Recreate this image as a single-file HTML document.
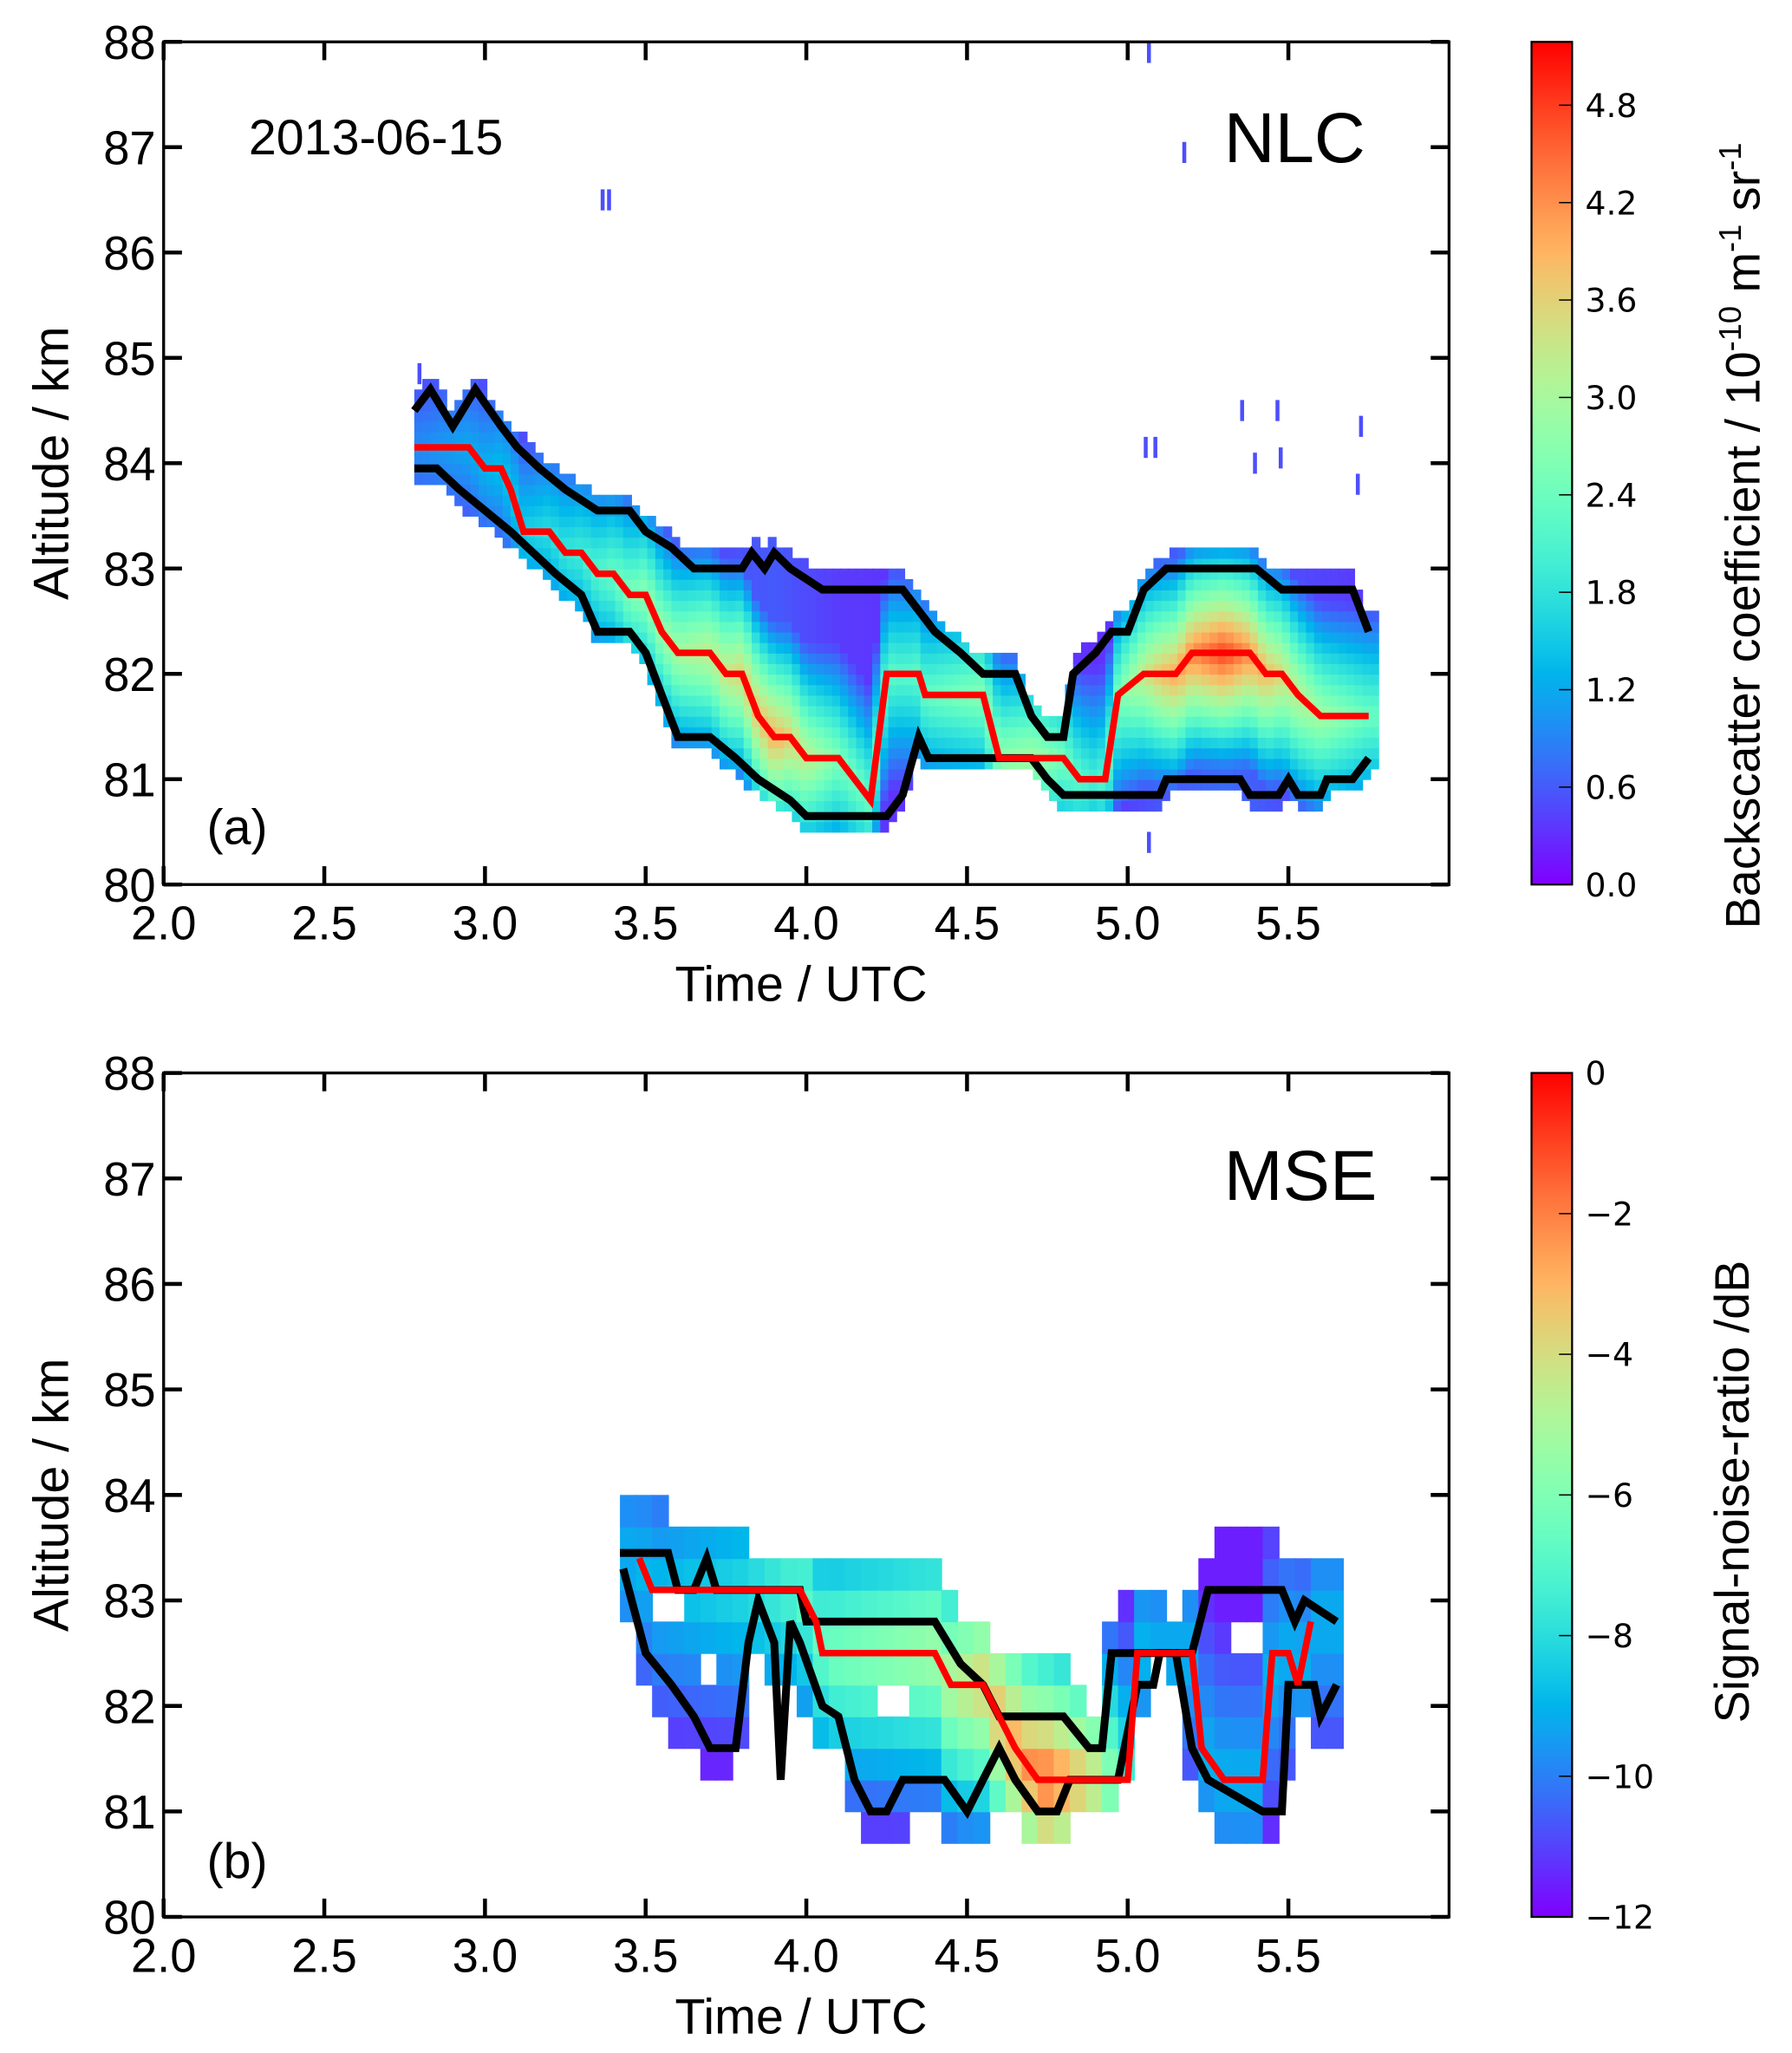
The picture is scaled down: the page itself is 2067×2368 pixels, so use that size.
<!DOCTYPE html>
<html><head><meta charset="utf-8"><style>
html,body{margin:0;padding:0;background:#fff}
svg{display:block}
text{font-family:"Liberation Sans",Arial,sans-serif;fill:#000}
.dv{font-family:"DejaVu Sans",sans-serif}
</style></head><body>
<svg id="fig" xmlns="http://www.w3.org/2000/svg" width="2067" height="2368" viewBox="0 0 1369 1569" preserveAspectRatio="none">
<defs>
<linearGradient id="cb1" x1="0" y1="1" x2="0" y2="0"></linearGradient>
</defs>
<g id="root"></g>
</svg>
<script>
// ---------- DATA ----------
const xTicks=[2.0,2.5,3.0,3.5,4.0,4.5,5.0,5.5];
const yTicks=[80,81,82,83,84,85,86,87,88];
const cbTicksA=[0.0,0.6,1.2,1.8,2.4,3.0,3.6,4.2,4.8];
const cbTicksB=[0,-2,-4,-6,-8,-10,-12];
// Panel (a) NLC
const aUpT=[2.78,2.83,2.9,2.97,3.05,3.1,3.17,3.25,3.35,3.45,3.5,3.58,3.65,3.8,3.83,3.87,3.9,3.95,4.05,4.3,4.4,4.48,4.55,4.65,4.7,4.75,4.8,4.83,4.9,4.95,5.0,5.05,5.12,5.4,5.48,5.7,5.75];
const aUpZ=[84.5,84.7,84.35,84.7,84.35,84.15,83.95,83.75,83.55,83.55,83.35,83.2,83.0,83.0,83.15,83.0,83.15,83.0,82.8,82.8,82.4,82.2,82.0,82.0,81.6,81.4,81.4,82.0,82.2,82.4,82.4,82.8,83.0,83.0,82.8,82.8,82.4];
const aLoT=[2.78,2.85,2.92,3.0,3.08,3.15,3.22,3.3,3.35,3.45,3.5,3.55,3.6,3.7,3.78,3.85,3.95,4.0,4.25,4.3,4.35,4.38,4.7,4.75,4.8,5.1,5.12,5.35,5.38,5.47,5.5,5.53,5.6,5.62,5.7,5.75];
const aLoZ=[83.95,83.95,83.75,83.55,83.35,83.15,82.95,82.75,82.4,82.4,82.2,81.8,81.4,81.4,81.2,81.0,80.8,80.65,80.65,80.85,81.4,81.2,81.2,81.0,80.85,80.85,81.0,81.0,80.85,80.85,81.0,80.85,80.85,81.0,81.0,81.2];
const aRedT=[2.78,2.95,3.0,3.05,3.08,3.12,3.2,3.25,3.3,3.35,3.4,3.45,3.5,3.55,3.6,3.7,3.75,3.8,3.85,3.9,3.95,4.0,4.1,4.15,4.2,4.25,4.35,4.37,4.55,4.6,4.8,4.85,4.93,4.97,5.05,5.15,5.2,5.38,5.43,5.48,5.53,5.6,5.75];
const aRedZ=[84.15,84.15,83.95,83.95,83.75,83.35,83.35,83.15,83.15,82.95,82.95,82.75,82.75,82.4,82.2,82.2,82.0,82.0,81.6,81.4,81.4,81.2,81.2,81.0,80.8,82.0,82.0,81.8,81.8,81.2,81.2,81.0,81.0,81.8,82.0,82.0,82.2,82.2,82.0,82.0,81.8,81.6,81.6];
const aPeakT=[2.8,3.0,3.3,3.5,3.75,3.9,4.1,4.3,4.5,4.7,4.9,5.1,5.3,5.5,5.75];
const aPeakV=[1.0,1.3,2.0,2.8,3.4,4.0,2.6,2.2,2.6,3.0,2.0,3.8,4.8,3.4,2.4];
const aSpeckT=[5.06,5.17,3.36,3.38,5.05,5.08,5.35,5.46,5.47,5.72,5.71,5.39,5.06,2.79];
const aSpeckZ=[87.9,86.95,86.5,86.5,84.15,84.15,84.5,84.5,84.05,84.35,83.8,84.0,80.4,84.85];
// Panel (b) MSE
const bUpT=[3.42,3.57,3.6,3.65,3.69,3.72,3.98,4.0,4.4,4.48,4.55,4.6,4.8,4.88,4.92,4.95,5.2,5.25,5.48,5.52,5.55,5.65];
const bUpZ=[83.45,83.45,83.1,83.1,83.4,83.1,83.1,82.8,82.8,82.4,82.2,81.9,81.9,81.6,81.6,82.5,82.5,83.1,83.1,82.8,83.0,82.8];
const bLoT=[3.43,3.5,3.58,3.65,3.7,3.78,3.82,3.85,3.9,3.92,3.95,3.98,4.05,4.1,4.15,4.2,4.25,4.3,4.43,4.5,4.55,4.6,4.65,4.72,4.78,4.82,4.97,5.03,5.08,5.1,5.15,5.2,5.25,5.42,5.48,5.5,5.58,5.6,5.65];
const bLoZ=[83.3,82.5,82.2,81.9,81.6,81.6,82.6,83.0,82.6,81.3,82.8,82.6,82.0,81.9,81.3,81.0,81.0,81.3,81.3,81.0,81.3,81.6,81.3,81.0,81.0,81.3,81.3,82.2,82.2,82.5,82.5,81.6,81.3,81.0,81.0,82.2,82.2,81.9,82.2];
const bRedT=[3.48,3.52,3.98,4.03,4.05,4.4,4.45,4.55,4.6,4.65,4.72,5.0,5.03,5.06,5.2,5.23,5.3,5.42,5.45,5.5,5.53,5.57];
const bRedZ=[83.4,83.1,83.1,82.8,82.5,82.5,82.2,82.2,81.9,81.6,81.3,81.3,82.5,82.5,82.5,81.6,81.3,81.3,82.5,82.5,82.2,82.8];
const bPeakT=[3.45,3.8,4.1,4.4,4.6,4.75,4.9,5.05,5.3,5.6];
const bPeakV=[-9,-8,-6,-5,-3,-1.5,-4,-9,-9,-9];

// ---------- LAYOUT ----------
const AX={x0:125,x1:1107,tmin:2.0,tmax:6.0};
const PA={top:32,bot:676}, PB={top:820,bot:1465};
const CB={x0:1170,x1:1201};
const NS="http://www.w3.org/2000/svg";
const root=document.getElementById('root');
function el(tag,attrs,parent){const e=document.createElementNS(NS,tag);for(const k in attrs)e.setAttribute(k,attrs[k]);(parent||root).appendChild(e);return e;}
function X(t){return AX.x0+(t-AX.tmin)/(AX.tmax-AX.tmin)*(AX.x1-AX.x0);}
function Yf(p){return z=>p.bot-(z-80)/8*(p.bot-p.top);}
function interp(ts,vs,t){if(t<=ts[0])return vs[0];for(let i=1;i<ts.length;i++){if(t<=ts[i]){const f=(t-ts[i-1])/(ts[i]-ts[i-1]);return vs[i-1]+f*(vs[i]-vs[i-1]);}}return vs[vs.length-1];}
function rainbow(x){x=Math.max(0,Math.min(1,x));const r=Math.min(1,Math.abs(2*x-0.5)),g=Math.sin(Math.PI*x),b=Math.cos(Math.PI*x/2);return `rgb(${Math.round(r*255)},${Math.round(g*255)},${Math.round(b*255)})`;}

const grad=document.getElementById('cb1');
for(let i=0;i<=40;i++){const s=document.createElementNS(NS,'stop');s.setAttribute('offset',(i/40));s.setAttribute('stop-color',rainbow(i/40));grad.appendChild(s);}

function heat(p,name,dt,dz,upT,upZ,loT,loZ,redT,redZ,pkT,pkV,vmin,vmax,t0,t1,spread,gapFn){
  const Y=Yf(p);const g=el('g',{});
  
  for(let t=t0;t<t1-1e-6;t+=dt){
    const up=interp(upT,upZ,t+dt/2)+dz, lo=interp(loT,loZ,t+dt/2)-dz;
    const red=interp(redT,redZ,t+dt/2), pk=interp(pkT,pkV,t+dt/2);
    for(let z=Math.floor(lo/dz)*dz;z<up;z+=dz){
      if(gapFn&&gapFn(t,z))continue;
      const d=Math.abs(z+dz/2-red);
      let v=pk-(pk-vmin)*Math.min(1,d/spread)*0.85;
      const c=el('rect',{x:X(t),y:Y(z+dz),width:X(t+dt)-X(t)+0.6,height:Y(z)-Y(z+dz)+0.6,fill:rainbow((v-vmin)/(vmax-vmin))},g);
      
      
    }
  }
}
function line(p,name,ts,zs,color,w){const Y=Yf(p);const d=ts.map((t,i)=>(i?'L':'M')+X(t).toFixed(1)+','+Y(zs[i]).toFixed(1)).join('');const e=el('path',{d:d,fill:'none',stroke:color,'stroke-width':w,'stroke-linejoin':'miter'});}

function axes(p,tag){
  const Y=Yf(p);
  const f=el('rect',{x:AX.x0,y:p.top,width:AX.x1-AX.x0,height:p.bot-p.top,fill:'none',stroke:'#000','stroke-width':2.2});
  
  xTicks.forEach(t=>{const x=X(t);
    el('line',{x1:x,x2:x,y1:p.bot,y2:p.bot-14,stroke:'#000','stroke-width':3});
    el('line',{x1:x,x2:x,y1:p.top,y2:p.top+14,stroke:'#000','stroke-width':3});
    const tx=el('text',{x:x,y:p.bot+42,'font-size':36,'text-anchor':'middle'});tx.textContent=t.toFixed(1);
    });
  yTicks.forEach(z=>{const y=Y(z);
    el('line',{x1:AX.x0,x2:AX.x0+14,y1:y,y2:y,stroke:'#000','stroke-width':3});
    el('line',{x1:AX.x1,x2:AX.x1-14,y1:y,y2:y,stroke:'#000','stroke-width':3});
    const tx=el('text',{x:AX.x0-6,y:y+13,'font-size':36,'text-anchor':'end'});tx.textContent=z;
    });
  const xl=el('text',{x:612,y:p.bot+89,'font-size':38,'text-anchor':'middle'});xl.textContent='Time / UTC';
  
  const cy=(p.top+p.bot)/2;
  const yl=el('text',{x:52,y:cy,'font-size':38,'text-anchor':'middle',transform:`rotate(-90 52 ${cy})`});yl.textContent='Altitude / km';
  
}
function colorbar(p,tag,ticks,vmin,vmax,fmt){
  const r=el('rect',{x:CB.x0,y:p.top,width:CB.x1-CB.x0,height:p.bot-p.top,fill:'url(#cb1)',stroke:'#000','stroke-width':1.5});
  
  ticks.forEach(v=>{const y=p.bot-(v-vmin)/(vmax-vmin)*(p.bot-p.top);
    el('line',{x1:CB.x1-10,x2:CB.x1,y1:y,y2:y,stroke:'#000','stroke-width':1});
    const t=el('text',{x:CB.x1+10,y:y+9,'font-size':25,class:'dv'});t.textContent=fmt(v);
    });
}

// ---------- PANEL A ----------
heat(PA,'nlc-heatmap',0.025,0.1,aUpT,aUpZ,aLoT,aLoZ,aRedT,aRedZ,aPeakT,aPeakV,0,5.19,2.78,5.76,1.1,null);
{const Y=Yf(PA);aSpeckT.forEach((t,i)=>{const s=el('rect',{x:X(t),y:Y(aSpeckZ[i]+0.1),width:3,height:Y(0)-Y(0.2),fill:rainbow(0.1)});});}
line(PA,'nlc-upper-boundary',aUpT,aUpZ,'#000',6);
line(PA,'nlc-lower-boundary',aLoT,aLoZ,'#000',6);
line(PA,'nlc-peak-altitude',aRedT,aRedZ,'#ff0000',5);
axes(PA,'nlc');
colorbar(PA,'nlc',cbTicksA,0,5.19,v=>v.toFixed(1));
// ---------- PANEL B ----------
heat(PB,'mse-heatmap',0.05,0.3,bUpT,bUpZ,bLoT,bLoZ,bRedT,bRedZ,bPeakT,bPeakV,-12,0,3.42,5.67,1.6,(t,z)=>((t>3.5&&t<3.6&&z>82.6&&z<82.9)||(t>3.62&&t<3.7&&z>82.0&&z<82.4)||(t>4.2&&t<4.3&&z>81.7&&z<82.1)||(t>5.3&&t<5.4&&z>82.3&&z<82.6)||(t>5.05&&t<5.15&&z>81.4&&z<82.2)));
line(PB,'mse-upper-boundary',bUpT,bUpZ,'#000',6);
line(PB,'mse-lower-boundary',bLoT,bLoZ,'#000',6);
line(PB,'mse-peak-altitude',bRedT,bRedZ,'#ff0000',5);
axes(PB,'mse');
colorbar(PB,'mse',cbTicksB,-12,0,v=>v===0?'0':'\u2212'+Math.abs(v));
</script>
<svg style="position:absolute;left:0;top:0" width="2067" height="2368" viewBox="0 0 1369 1569" preserveAspectRatio="none">
<text x="190" y="118" font-size="38">2013-06-15</text>
<text x="935" y="124" font-size="54">NLC</text>
<text x="935" y="917" font-size="54">MSE</text>
<text x="158" y="645" font-size="38">(a)</text>
<text x="158" y="1435" font-size="38">(b)</text>
<text transform="translate(1344 710) rotate(-90)" font-size="37">Backscatter coefficient / 10<tspan dy="-14" font-size="24">-10</tspan><tspan dy="14"> m</tspan><tspan dy="-14" font-size="24">-1</tspan><tspan dy="14"> sr</tspan><tspan dy="-14" font-size="24">-1</tspan></text>
<text transform="translate(1336 1140) rotate(-90)" font-size="37" text-anchor="middle">Signal-noise-ratio /dB</text>
</svg>
</body></html>
